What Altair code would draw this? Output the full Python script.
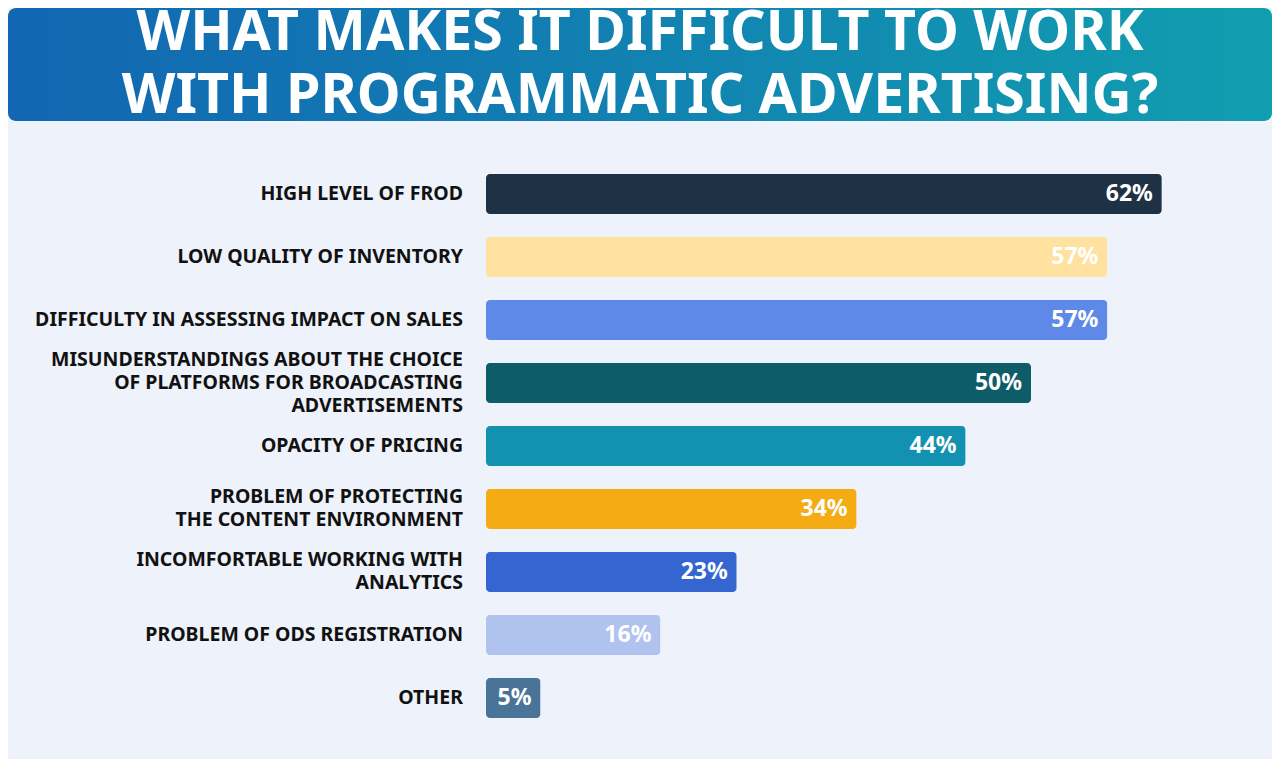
import altair as alt
import pandas as pd

categories = [
    "HIGH LEVEL OF FROD",
    "LOW QUALITY OF INVENTORY",
    "DIFFICULTY IN ASSESSING IMPACT ON SALES",
    "MISUNDERSTANDINGS ABOUT THE CHOICE\nOF PLATFORMS FOR BROADCASTING\nADVERTISEMENTS",
    "OPACITY OF PRICING",
    "PROBLEM OF PROTECTING\nTHE CONTENT ENVIRONMENT",
    "INCOMFORTABLE WORKING WITH\nANALYTICS",
    "PROBLEM OF ODS REGISTRATION",
    "OTHER",
]
values = [62, 57, 57, 50, 44, 34, 23, 16, 5]
colors = ["#1F3245", "#FFE1A0", "#5F89E8", "#0D5C68", "#1391B0",
          "#F5AB13", "#3465D1", "#AFC3EE", "#4A7497"]
title_text = "WHAT MAKES IT DIFFICULT TO WORK\nWITH PROGRAMMATIC ADVERTISING?"

df = pd.DataFrame({
    "cat": categories,
    "value": values,
    "color": colors,
    "label": [f"{v}%" for v in values],
})

FONT = "Noto Sans"
W, H = 763, 567
PAD_L, PAD_T, PAD_R, PAD_B = 478, 154.5, 23, 29.5
LH = 23
HALF_BAND = 20

y_enc = alt.Y("cat:N", sort=categories, axis=None,
              scale=alt.Scale(paddingInner=0.365, paddingOuter=0.1825))
x_scale = alt.Scale(domain=[0, 70])

base = alt.Chart(df)

bars = base.mark_bar(cornerRadius=4).encode(
    y=y_enc,
    x=alt.X("value:Q", scale=x_scale, axis=None),
    color=alt.Color("color:N", scale=None, legend=None),
)

vals = base.mark_text(align="right", baseline="middle", dx=-9, font=FONT,
                      fontWeight="bold", fontSize=23, color="white").encode(
    y=y_enc,
    x=alt.X("value:Q", scale=x_scale),
    text="label:N",
)

cats = base.transform_calculate(
    off=f"{HALF_BAND} - (length(split(datum.cat, '\\n')) - 1) * {LH} / 2"
).mark_text(align="right", baseline="middle", font=FONT,
            fontWeight="bold", fontSize=19.5, color="#111111",
            lineBreak="\n", lineHeight=LH).encode(
    y=y_enc,
    yOffset=alt.YOffset("off:Q", scale=None),
    x=alt.value(-23),
    text="cat:N",
)

banner_df = pd.DataFrame({"t": [title_text]})
banner = alt.Chart(banner_df).mark_rect(
    cornerRadius=8,
    color=alt.Gradient(
        gradient="linear", x1=0, x2=1, y1=0, y2=0,
        stops=[alt.GradientStop(color="#1266B2", offset=0),
               alt.GradientStop(color="#119EB0", offset=1)],
    ),
).encode(
    x=alt.value(-PAD_L), x2=alt.value(W + PAD_R),
    y=alt.value(-PAD_T), y2=alt.value(121 - 8 - PAD_T),
)

title = alt.Chart(banner_df).mark_text(
    align="center", baseline="middle", font=FONT, fontWeight="bold",
    fontSize=55.5, color="white", lineBreak="\n", lineHeight=63,
).encode(
    x=alt.value(632 - PAD_L),
    y=alt.value(33 - 8 - PAD_T),
    text="t:N",
)

chart = alt.layer(banner, title, bars, vals, cats).properties(
    width=W, height=H,
    autosize=alt.AutoSizeParams(type="none"),
    padding={"left": PAD_L, "top": PAD_T, "right": PAD_R, "bottom": PAD_B},
    background="#EEF2FA",
).configure_view(stroke=None)

chart.save("out.html", embed_options={"renderer": "svg", "actions": False})
